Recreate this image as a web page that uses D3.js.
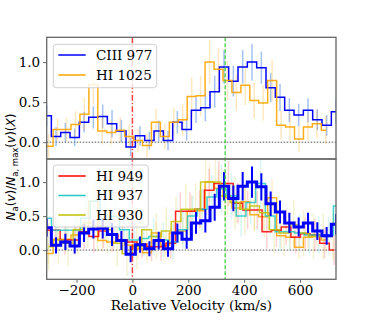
<!DOCTYPE html>
<html>
<head>
<meta charset="utf-8">
<script src="https://cdn.jsdelivr.net/npm/d3@7"></script>
<style>
  body { margin: 0; background: #fff; }
  text { font-family: "DejaVu Serif", serif; }
</style>
</head>
<body>
<div id="chart"></div>
<script>
// Velocity grid of each line: first bin centre and bin width (km/s)
var ciiiStart = -306.7, ciiiStep = 33.4;
var hi1025Start = -331.8, hi1025Step = 32.0;
var hi949Start = -310, hi949Step = 34.4;
var hi937Start = -307, hi937Step = 34.8;
var hi930Start = -300, hi930Step = 35.1;

// Normalised apparent column density per bin, and 1-sigma errors
var ciiiValues = [0.33, 0.07, 0.12, 0.06, 0.25, 0.31, 0.32, 0.23, 0.14, -0.06, 0.08, 0.02, 0.14, 0.02, 0.25, 0.16,
                  0.40, 0.43, 0.63, 0.94, 0.76, 0.94, 1.00, 0.93, 0.68, 0.56, 0.40, 0.34, 0.40, 0.28, 0.21, 0.38];
var ciiiErrors = [0.13, 0.12, 0.12, 0.11, 0.13, 0.14, 0.15, 0.17, 0.14, 0.12, 0.12, 0.11, 0.13, 0.12, 0.14, 0.14,
                  0.16, 0.17, 0.20, 0.21, 0.19, 0.21, 0.23, 0.20, 0.18, 0.17, 0.15, 0.14, 0.15, 0.13, 0.13, 0.15];

var hi1025Values = [0.00, -0.05, 0.16, 0.16, 0.22, 0.35, 0.72, 0.14, 0.12, 0.15, 0.07, 0.02, -0.04, 0.25, 0.07, 0.25,
                    0.28, 0.57, 0.58, 1.00, 0.91, 0.77, 0.62, 0.71, 0.52, 0.49, 0.77, 0.21, 0.19, 0.04, 0.19, 0.23, 0.15];
var hi1025Errors = [0.15, 0.15, 0.14, 0.15, 0.17, 0.20, 0.25, 0.17, 0.15, 0.16, 0.15, 0.15, 0.15, 0.17, 0.16, 0.18,
                    0.20, 0.24, 0.25, 0.28, 0.27, 0.25, 0.23, 0.25, 0.22, 0.22, 0.26, 0.18, 0.17, 0.16, 0.17, 0.18, 0.17];

var hi949Values = [0.29, 0.29, 0.15, 0.15, 0.27, 0.20, 0.28, 0.22, 0.15, 0.12, 0.09, 0.05, 0.05, 0.10, 0.57, 0.57,
                   0.60, 0.88, 0.98, 0.98, 0.69, 0.59, 0.59, 0.27, 0.29, 0.34, 0.19, 0.24, 0.22, 0.10, 0.00];
var hi949Errors = [0.25, 0.25, 0.22, 0.22, 0.25, 0.24, 0.25, 0.24, 0.22, 0.22, 0.21, 0.21, 0.21, 0.22, 0.28, 0.28,
                   0.28, 0.32, 0.33, 0.33, 0.30, 0.28, 0.28, 0.25, 0.25, 0.26, 0.24, 0.25, 0.24, 0.22, 0.22];

var hi937Values = [0.47, 0.29, 0.29, 0.29, 0.47, 0.72, 0.45, 0.49, 0.30, 0.15, 0.17, 0.20, 0.15, 0.12, 0.30, 0.50,
                   0.60, 0.78, 0.90, 0.80, 0.50, 0.70, 0.98, 0.50, 0.27, 0.27, 0.25, 0.22, 0.22, 0.22, 0.65];
var hi937Errors = [0.30, 0.28, 0.28, 0.28, 0.30, 0.33, 0.30, 0.30, 0.28, 0.26, 0.26, 0.27, 0.26, 0.26, 0.28, 0.30,
                   0.31, 0.33, 0.35, 0.34, 0.30, 0.32, 0.36, 0.30, 0.28, 0.28, 0.27, 0.27, 0.27, 0.27, 0.32];

var hi930Values = [0.05, 0.15, 0.10, 0.30, 0.40, 0.35, 0.30, 0.10, -0.05, 0.05, 0.30, 0.20, 0.28, 0.42, 0.60, 0.60,
                   1.00, 1.00, 0.80, 0.70, 0.60, 0.65, 0.55, 0.30, 0.25, 0.37, 0.25, 0.20, 0.20, 0.20];
var hi930Errors = [0.35, 0.35, 0.34, 0.36, 0.37, 0.36, 0.36, 0.34, 0.33, 0.33, 0.35, 0.34, 0.35, 0.36, 0.38, 0.38,
                   0.42, 0.42, 0.40, 0.39, 0.38, 0.38, 0.37, 0.35, 0.34, 0.36, 0.34, 0.34, 0.34, 0.34];

// Reference velocities (km/s)
var systemicVelocity = 0;
var componentVelocity = 332;

var xTicks = [-200, 0, 200, 400, 600];
var yTicks = [0.0, 0.5, 1.0];

var width = 374, height = 320;
var left = 46.7, right = 336;

var x = d3.scaleLinear().domain([-306.7, 728.7]).range([left, right]);
var yTop = d3.scaleLinear().domain([-0.21, 1.31]).range([159, 37.3]);
var yBottom = d3.scaleLinear().domain([-0.43, 1.34]).range([279.3, 159]);

function makeSeries(name, start, step, values, errors, color) {
  return {
    name: name,
    color: color,
    points: values.map(function (v, i) {
      return { v: start + i * step, y: v, e: errors[i] };
    })
  };
}

var ciii = makeSeries('CIII 977', ciiiStart, ciiiStep, ciiiValues, ciiiErrors, '#0000ff');
var hi1025 = makeSeries('HI 1025', hi1025Start, hi1025Step, hi1025Values, hi1025Errors, '#ffa500');
var hi949 = makeSeries('HI 949', hi949Start, hi949Step, hi949Values, hi949Errors, '#ff0000');
var hi937 = makeSeries('HI 937', hi937Start, hi937Step, hi937Values, hi937Errors, '#22c8c8');
var hi930 = makeSeries('HI 930', hi930Start, hi930Step, hi930Values, hi930Errors, '#bfbf00');

var svg = d3.select('#chart')
            .append('svg')
            .attr('width', width)
            .attr('height', height);

function panel(id, y, top, bottom) {
  svg.append('clipPath')
     .attr('id', id)
     .append('rect')
     .attr('x', left)
     .attr('y', top)
     .attr('width', right - left)
     .attr('height', bottom - top);
  var g = svg.append('g').attr('clip-path', 'url(#' + id + ')');

  // zero level
  g.append('line')
   .attr('x1', left).attr('x2', right)
   .attr('y1', y(0)).attr('y2', y(0))
   .attr('stroke', '#555')
   .attr('stroke-width', 1)
   .attr('stroke-dasharray', '1.5,1.5');
  return g;
}

function errorBars(g, s, y, color, opacity, widthPx) {
  g.append('g')
   .selectAll('line')
   .data(s.points)
   .enter()
   .append('line')
   .attr('x1', function (d) { return x(d.v); })
   .attr('x2', function (d) { return x(d.v); })
   .attr('y1', function (d) { return y(d.y - d.e); })
   .attr('y2', function (d) { return y(d.y + d.e); })
   .attr('stroke', color)
   .attr('stroke-opacity', opacity)
   .attr('stroke-width', widthPx);
}

function stepLine(g, s, y, widthPx, opacity) {
  var line = d3.line()
               .curve(d3.curveStep)
               .x(function (d) { return x(d.v); })
               .y(function (d) { return y(d.y); });
  g.append('path')
   .datum(s.points)
   .attr('d', line)
   .attr('fill', 'none')
   .attr('stroke', s.color)
   .attr('stroke-opacity', opacity)
   .attr('stroke-width', widthPx);
}

// Top panel: CIII 977 and HI 1025
var gTop = panel('clip-top', yTop, 37.3, 159);
errorBars(gTop, ciii, yTop, '#5a8ee8', 0.55, 1.5);
errorBars(gTop, hi1025, yTop, '#ffa500', 0.25, 1.5);
stepLine(gTop, ciii, yTop, 1.5, 1);
stepLine(gTop, hi1025, yTop, 1.5, 0.9);

// Bottom panel: Lyman series with CIII 977 on top
var gBottom = panel('clip-bottom', yBottom, 159, 279.3);
[hi1025, hi949, hi937, hi930].forEach(function (s) {
  errorBars(gBottom, s, yBottom, s.color, 0.18, 1.5);
});
[hi1025, hi949, hi937, hi930].forEach(function (s) {
  stepLine(gBottom, s, yBottom, 1.5, 0.85);
});
errorBars(gBottom, ciii, yBottom, '#0000ff', 1, 2);
stepLine(gBottom, ciii, yBottom, 3, 1);

// Reference velocity markers across both panels
svg.append('line')
   .attr('x1', x(systemicVelocity)).attr('x2', x(systemicVelocity))
   .attr('y1', 37.3).attr('y2', 279.3)
   .attr('stroke', '#ff0000')
   .attr('stroke-opacity', 0.75)
   .attr('stroke-width', 1.5)
   .attr('stroke-dasharray', '6,2,1.5,2');
svg.append('line')
   .attr('x1', x(componentVelocity)).attr('x2', x(componentVelocity))
   .attr('y1', 37.3).attr('y2', 279.3)
   .attr('stroke', '#33cc33')
   .attr('stroke-width', 1.2)
   .attr('stroke-dasharray', '4,2');

// Legends
function legend(items, x0, y0, w, h, rows) {
  var g = svg.append('g');
  g.append('rect')
   .attr('x', x0).attr('y', y0)
   .attr('width', w).attr('height', h)
   .attr('rx', 3)
   .attr('fill', '#fff')
   .attr('fill-opacity', 0.8)
   .attr('stroke', '#d0d0d0');
  items.forEach(function (s, i) {
    g.append('line')
     .attr('x1', 58.3).attr('x2', 85.7)
     .attr('y1', rows[i]).attr('y2', rows[i])
     .attr('stroke', s.color)
     .attr('stroke-width', 1.5);
    g.append('text')
     .attr('x', 96)
     .attr('y', rows[i])
     .attr('dy', '0.36em')
     .attr('font-size', '13.5px')
     .text(s.name);
  });
}
legend([ciii, hi1025], 53.3, 44.3, 103.4, 43.4, [55, 75]);
legend([hi949, hi937, hi930], 53.3, 165, 95, 62, [176, 195.5, 215]);

// Frames and axes
[[37.3, 159, yTop], [159, 279.3, yBottom]].forEach(function (p) {
  svg.append('rect')
     .attr('x', left).attr('y', p[0])
     .attr('width', right - left).attr('height', p[1] - p[0])
     .attr('fill', 'none')
     .attr('stroke', '#666')
     .attr('stroke-width', 1.3);
  var axis = svg.append('g')
                .attr('transform', 'translate(' + left + ',0)')
                .call(d3.axisLeft(p[2]).tickValues(yTicks).tickFormat(d3.format('.1f')).tickSizeOuter(0).tickSize(3.5));
  axis.select('.domain').remove();
  axis.selectAll('line').attr('stroke', '#666');
  axis.selectAll('text').attr('font-size', '13.5px').attr('font-family', 'DejaVu Serif').attr('fill', '#000');
});

var xAxis = svg.append('g')
               .attr('transform', 'translate(0,279.3)')
               .call(d3.axisBottom(x).tickValues(xTicks).tickFormat(d3.format('d')).tickSizeOuter(0).tickSize(3.5));
xAxis.select('.domain').remove();
xAxis.selectAll('line').attr('stroke', '#666');
xAxis.selectAll('text').attr('font-size', '13.5px').attr('font-family', 'DejaVu Serif').attr('fill', '#000');

svg.append('text')
   .attr('x', (left + right) / 2)
   .attr('y', 310)
   .attr('text-anchor', 'middle')
   .attr('font-size', '13.5px')
   .text('Relative Velocity (km/s)');

// y label: N_a(v)/N_{a,max}(v)(X)
var ylab = svg.append('text')
              .attr('transform', 'translate(15,167) rotate(-90)')
              .attr('text-anchor', 'middle')
              .attr('font-size', '12px')
              .style('font-family', 'DejaVu Sans');
var parts = [
  ['N', 'italic', 0], ['a', 'normal', 1], ['(', 'normal', 0], ['v', 'italic', 0], [')/', 'normal', 0],
  ['N', 'italic', 0], ['a, max', 'normal', 1], ['(', 'normal', 0], ['v', 'italic', 0], [')(', 'normal', 0],
  ['X', 'italic', 0], [')', 'normal', 0]
];
var lastSub = 0;
parts.forEach(function (p) {
  var t = ylab.append('tspan')
              .attr('font-style', p[1])
              .text(p[0]);
  if (p[2] === 1) {
    t.attr('dy', 2.5).attr('font-size', '8.5px');
  } else if (lastSub === 1) {
    t.attr('dy', -2.5);
  }
  lastSub = p[2];
});
</script>
</body>
</html>
